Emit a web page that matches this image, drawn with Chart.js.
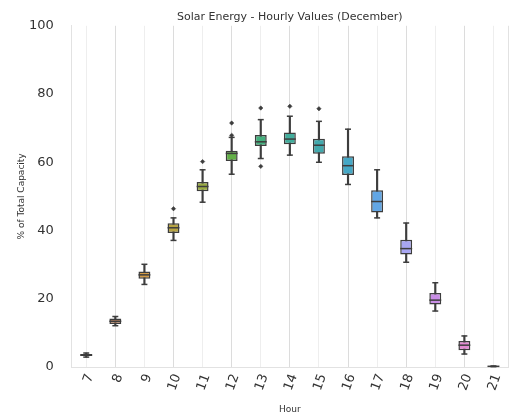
<!DOCTYPE html>
<html>
<head>
<meta charset="utf-8">
<script src="https://cdn.jsdelivr.net/npm/chart.js@4.4.1/dist/chart.umd.min.js"></script>
<style>
html,body{margin:0;padding:0;background:#fff;}
#wrap{width:517px;height:420px;}
</style>
</head>
<body>
<div id="wrap"><canvas id="c" width="517" height="420"></canvas></div>
<script>
const hours = ['7','8','9','10','11','12','13','14','15','16','17','18','19','20','21'];
const whiskerLow  = [2.9, 12.1, 24.2, 37.1, 48.3, 56.5, 61.1, 62.1, 60.0, 53.5, 43.7, 30.7, 16.4, 3.8, 0.1];
const q1          = [3.2, 12.6, 25.9, 39.3, 51.5, 60.4, 64.8, 65.3, 62.5, 56.3, 45.3, 33.0, 18.3, 4.9, 0.15];
const medians     = [3.5, 13.4, 27.0, 40.8, 52.9, 62.6, 66.0, 66.8, 65.0, 59.0, 48.5, 34.7, 19.6, 6.4, 0.2];
const q3          = [3.8, 14.2, 28.0, 42.1, 54.2, 63.4, 68.0, 68.7, 66.9, 61.8, 51.8, 37.3, 21.7, 7.6, 0.25];
const whiskerHigh = [4.1, 14.8, 30.1, 43.7, 57.8, 67.3, 72.5, 73.5, 72.0, 69.7, 57.8, 42.2, 24.7, 9.1, 0.3];
const outlierHours  = ['10','11','12','12','13','13','14','15'];
const outlierValues = [46.4, 60.2, 71.5, 67.9, 75.9, 58.8, 76.4, 75.7];
const boxColors = ['#d5727f','#c98a62','#d29a45','#b7a443','#9bac44','#62af46','#45b07e','#42ad9c','#42a9ad','#45a8c6','#62a6e4','#a8a6f2','#c98ee6','#e38bd2','#e78aa8'];

const EDGE = '#3d3d3d';
Chart.defaults.font.family = 'DejaVu Sans';
Chart.defaults.color = '#333';

const boxExtras = {
  id: 'boxExtras',
  afterDatasetsDraw(chart) {
    const ctx = chart.ctx;
    const x = chart.scales.x, y = chart.scales.y;
    const meta = chart.getDatasetMeta(1);
    ctx.save();
    ctx.strokeStyle = EDGE;
    ctx.lineWidth = 1.5;
    hours.forEach((h, i) => {
      const cx = x.getPixelForValue(i);
      const bw = meta.data[i].width;
      const ym = y.getPixelForValue(medians[i]);
      ctx.beginPath(); ctx.moveTo(cx - bw/2, ym); ctx.lineTo(cx + bw/2, ym); ctx.stroke();
      [whiskerLow[i], whiskerHigh[i]].forEach(v => {
        const yy = y.getPixelForValue(v);
        ctx.beginPath(); ctx.moveTo(cx - bw/4, yy); ctx.lineTo(cx + bw/4, yy); ctx.stroke();
      });
    });
    ctx.strokeStyle = '#e2e2e2';
    ctx.lineWidth = 1;
    ctx.beginPath();
    ctx.moveTo(chart.chartArea.right + 0.5, chart.chartArea.top);
    ctx.lineTo(chart.chartArea.right + 0.5, chart.chartArea.bottom);
    ctx.stroke();
    ctx.restore();
  }
};

new Chart(document.getElementById('c'), {
  type: 'bar',
  data: {
    labels: hours,
    datasets: [
      {
        label: 'whiskers',
        data: hours.map((h, i) => [whiskerLow[i], whiskerHigh[i]]),
        backgroundColor: EDGE,
        borderWidth: 0,
        barThickness: 1.5,
        grouped: false,
        order: 3
      },
      {
        label: 'boxes',
        data: hours.map((h, i) => [q1[i], q3[i]]),
        backgroundColor: boxColors,
        borderColor: EDGE,
        borderWidth: 1.5,
        borderSkipped: false,
        barPercentage: 0.41,
        categoryPercentage: 1,
        grouped: false,
        order: 2
      },
      {
        type: 'line',
        label: 'outliers',
        data: outlierHours.map((h, i) => ({x: h, y: outlierValues[i]})),
        showLine: false,
        pointStyle: 'rectRot',
        pointRadius: 2.2,
        backgroundColor: EDGE,
        borderColor: EDGE,
        borderWidth: 0.5,
        order: 1
      }
    ]
  },
  options: {
    responsive: false,
    animation: false,
    layout: { padding: { left: 0, right: 9, top: 0, bottom: 0 } },
    plugins: {
      legend: { display: false },
      tooltip: { enabled: false },
      title: {
        display: true,
        text: 'Solar Energy - Hourly Values (December)',
        fullSize: false,
        font: { size: 11, weight: 'normal' },
        color: '#333',
        padding: { top: 6, bottom: 2 }
      }
    },
    scales: {
      x: {
        offset: true,
        grid: {
          offset: false,
          drawTicks: false,
          color: (c) => (c.index % 2 ? '#dcdcdc' : '#eeeeee'),
          lineWidth: 1
        },
        border: { display: true, color: '#e2e2e2' },
        ticks: {
          autoSkip: false,
          minRotation: 70,
          maxRotation: 70,
          padding: 5,
          labelOffset: 4,
          font: { size: 13 },
          color: '#333'
        },
        title: {
          display: true,
          text: 'Hour',
          font: { size: 9 },
          color: '#333',
          padding: { top: 0, bottom: 5 }
        },
        afterFit: (s) => { s.height = 53; }
      },
      y: {
        min: 0,
        max: 100,
        grid: { display: false, drawTicks: false },
        border: { display: true, color: '#e2e2e2' },
        ticks: { stepSize: 20, padding: 18, font: { size: 13 }, color: '#333' },
        title: {
          display: true,
          text: '% of Total Capacity',
          font: { size: 9 },
          color: '#333',
          padding: { top: 16.6, bottom: 0 }
        },
        afterFit: (s) => { s.width = 71.7; }
      }
    }
  },
  plugins: [boxExtras]
});
</script>
</body>
</html>
